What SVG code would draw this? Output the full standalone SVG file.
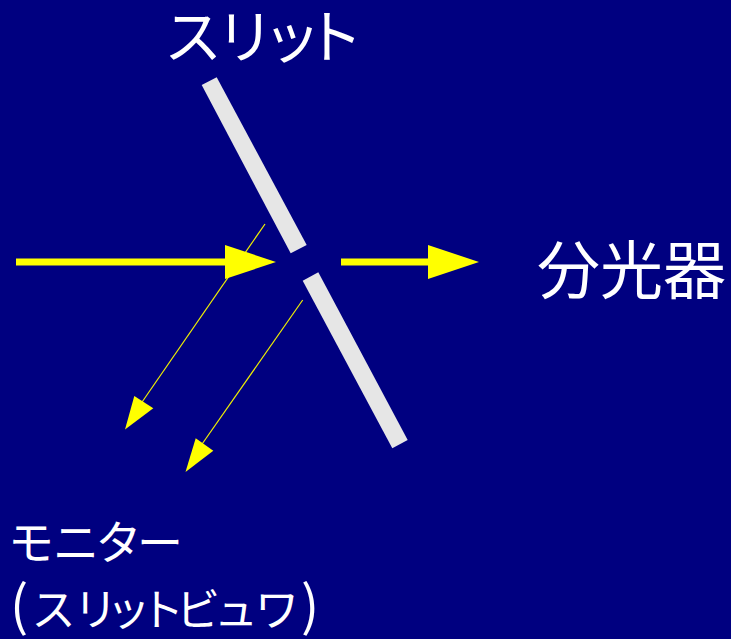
<svg xmlns="http://www.w3.org/2000/svg" width="731" height="639" viewBox="0 0 731 639">
<style>
.t{font-family:"Noto Sans CJK JP","Liberation Sans",sans-serif;fill:#fff}
.bar{fill:#e6e6e6}
.thick{stroke:#ff0;stroke-width:7;fill:none}
.thin{stroke:#f0f000;stroke-width:1.2;fill:none}
.head{fill:#ff0}
</style>
<rect width="731" height="639" fill="#000080"/>
<g id="slit-top"><polygon class="bar" points="201.7,85 216.7,77.3 306.7,245 290.7,253.3"/></g>
<g id="slit-bottom"><polygon class="bar" points="302.7,280.7 318.3,272.3 407.7,440 392.3,448.3"/></g>
<g id="connectors">
<line class="thin" x1="265" y1="224" x2="140" y2="405"/>
<polygon class="head" points="125,429.5 134.3,396 153.3,408.3"/>
<line class="thin" x1="302.7" y1="300" x2="200" y2="447"/>
<polygon class="head" points="185.5,472 195.7,438.3 213.3,450.7"/>
<line class="thick" x1="16" y1="262" x2="230" y2="262"/>
<polygon class="head" points="225,245 276,262 225,279"/>
<line class="thick" x1="341" y1="262" x2="432" y2="262"/>
<polygon class="head" points="428,245 479,262 428,279"/>
</g>
<g id="label-slit"><text class="t" x="164 216 263 305" y="58" font-size="58">スリット</text></g>
<g id="label-spectrometer"><text class="t" x="537" y="293" font-size="63">分光器</text></g>
<g id="label-monitor"><text class="t" x="8 53 95.5 137" y="559" font-size="46">モニター</text><text class="t" x="31.5 73.5 106.5 140 176 214 255" y="626" font-size="44">スリットビュワ</text><text class="t" x="10" y="625" font-size="54">(</text><text class="t" x="301" y="625" font-size="54">)</text></g>
</svg>
